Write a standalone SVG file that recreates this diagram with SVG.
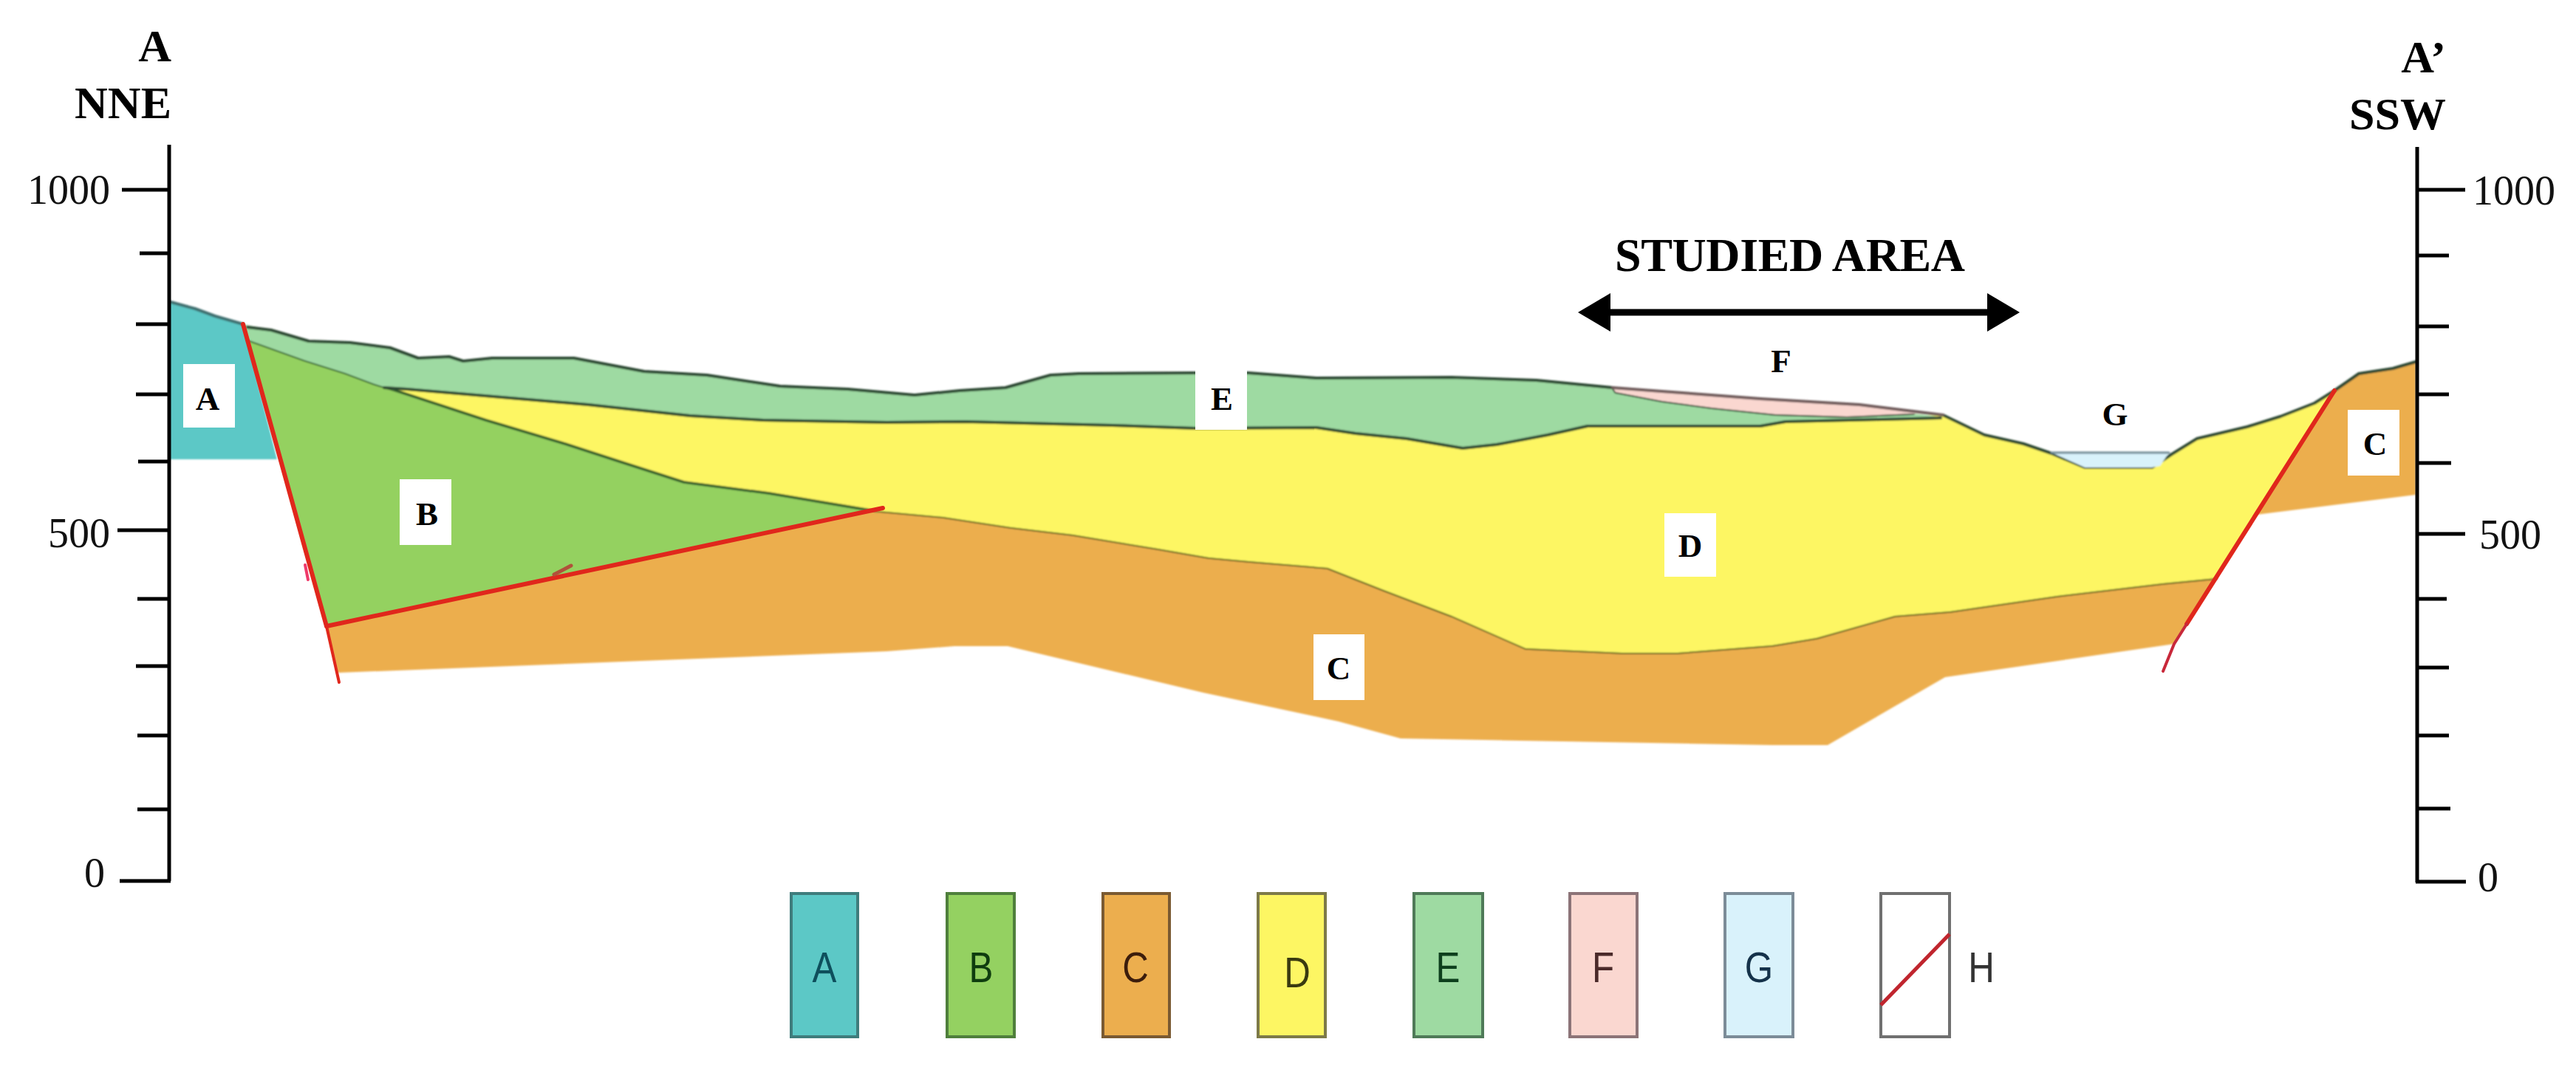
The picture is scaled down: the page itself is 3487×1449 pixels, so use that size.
<svg xmlns="http://www.w3.org/2000/svg" width="3487" height="1449" viewBox="0 0 3487 1449">
<style>
.ax{stroke:#000;stroke-width:5;fill:none}
.ol{fill:none;stroke:#2c4630;stroke-width:4;stroke-linejoin:round;stroke-linecap:round}
.olk{fill:none;stroke:#3d4a14;stroke-width:3.5;stroke-linejoin:round;stroke-linecap:round}
.flt{fill:none;stroke:#e0271c;stroke-linecap:round;stroke-linejoin:round}
.num{font-family:"Liberation Serif","Times New Roman",serif;font-size:56px;fill:#111}
.hd{font-family:"Liberation Serif","Times New Roman",serif;font-size:62px;font-weight:bold;fill:#000;text-anchor:end}
.lb{font-family:"Liberation Serif","Times New Roman",serif;font-size:45px;font-weight:bold;fill:#000;text-anchor:middle}
.leg{font-family:"Liberation Sans",Arial,sans-serif;font-size:58px;text-anchor:middle}
.box{fill:#fff}
.lg{stroke-width:4}
.A{fill:#5cc8c6}.B{fill:#94d161}.C{fill:#ecae4e}.D{fill:#fdf663}.E{fill:#9edaa2}.F{fill:#fad7d0}.G{fill:#d9f2fb}
</style>
<defs>
<marker id="ah" markerUnits="userSpaceOnUse" markerWidth="46" markerHeight="54" refX="2" refY="27" orient="auto-start-reverse">
<path d="M0 1L44 27L0 53Z" fill="#000"/>
</marker>
<filter id="soft" x="-2%" y="-2%" width="104%" height="104%"><feGaussianBlur stdDeviation="0.9"/></filter>
</defs>
<rect width="3487" height="1449" fill="#fff"/>

<g id="section" filter="url(#soft)">
<g id="layer-A">
<polygon class="A" points="229,409 264,418 291,428 329,439 375,622 229,622"/>
<polyline class="ol" style="stroke:#3f6f70" points="231,409 264,418 291,428 329,439"/>
</g>
<g id="layer-C">
<polygon class="C" points="441,848 1178,691 1276,700 1368,714 1452,724 1567,743 1636,755 1690,760 1797,769 1873,799 1965,834 2065,878 2195,884 2271,884 2399,874 2459,864 2565,834 2640,828 2785,807 2928,790 3000,783 2943,872 2633,917 2474,1009 2399,1009 1896,1000 1812,977 1629,938 1364,875 1292,875 1200,882 457,911"/>
<polygon class="C" points="3160,529 3193,506 3239,499 3270,490 3270,670 3054,697"/>
<polyline class="olk" points="1178,691 1276,700 1368,714 1452,724 1567,743 1636,755 1690,760 1797,769 1873,799 1965,834 2065,878 2195,884 2271,884 2399,874 2459,864 2565,834 2640,828 2785,807 2928,790 3000,783"/>
<polyline class="ol" points="3160,529 3193,506 3239,499 3270,490"/>
</g>
<g id="layer-D">
<polygon class="D" points="520,525 658,569 765,601 842,626 926,653 1041,668 1178,691 1276,700 1368,714 1452,724 1567,743 1636,755 1690,760 1797,769 1873,799 1965,834 2065,878 2195,884 2271,884 2399,874 2459,864 2565,834 2640,828 2785,807 2928,790 3000,783 3160,529 3133,546 3087,564 3042,578 2974,594 2940,615 2913,633 2822,633 2777,614 2739,601 2686,589 2630,562 2383,570 1200,560 551,527"/>
<polyline class="ol" points="2630,562 2686,589 2739,601 2777,614 2822,633 2913,633 2940,615 2974,594 3042,578 3087,564 3133,546 3160,529"/>
</g>
<g id="layer-B">
<polygon class="B" points="329,439 335,460 413,488 467,505 507,520 533,528 658,569 765,601 842,626 926,653 1041,668 1178,691 441,848"/>
<polyline class="olk" style="stroke:#2f5a2a" points="335,460 413,488 467,505 507,520 533,528 658,569 765,601 842,626 926,653 1041,668 1178,691"/>
</g>
<g id="layer-E">
<polygon class="E" points="329,439 367,447 418,462 474,464 528,471 566,485 608,483 627,489 666,485 777,485 872,503 957,508 1056,523 1148,527 1238,535 1299,529 1361,525 1422,508 1460,506 1618,505 1690,505 1782,512 1965,511 2080,515 2183,525 2187,531 2250,543 2317,552 2403,561 2500,564 2590,560 2630,565 2417,571 2383,578 2149,577 2095,589 2026,602 1980,607 1904,594 1835,587 1782,579 1618,580 1506,576 1307,571 1200,572 1033,569 934,563 796,548 551,527 533,528 507,520 467,505 413,488 335,460"/>
<polyline class="ol" points="335,443 367,447 418,462 474,464 528,471 566,485 608,483 627,489 666,485 777,485 872,503 957,508 1056,523 1148,527 1238,535 1299,529 1361,525 1422,508 1460,506 1618,505 1690,505 1782,512 1965,511 2080,515 2183,525 2187,531 2250,543 2317,552 2403,561 2500,564 2590,560"/>
<polyline class="ol" points="520,525 551,527 796,548 934,563 1033,569 1200,572 1307,571 1506,576 1618,580 1782,579 1835,587 1904,594 1980,607 2026,602 2095,589 2149,577 2383,577 2417,571 2627,566"/>
</g>
<g id="layer-F">
<polygon class="F" points="2183,525 2250,530 2383,540 2517,548 2590,557 2630,562 2590,560 2500,564 2403,561 2317,552 2250,543 2187,531"/>
<polyline class="ol" style="stroke:#6e5a5a" points="2183,525 2250,530 2383,540 2517,548 2590,557 2630,562"/>
</g>
<g id="layer-G">
<polygon class="G" points="2777,613 2936,613 2924,631 2913,633 2822,633"/>
<polyline class="ol" style="stroke:#6f8a96;stroke-width:3" points="2777,613 2936,613"/>
</g>
</g>

<g id="connectors">
<line class="flt" stroke-width="6" x1="329" y1="439" x2="442" y2="848"/>
<line class="flt" stroke-width="4" x1="442" y1="848" x2="459" y2="924"/>
<line class="flt" stroke-width="6" x1="442" y1="848" x2="1195" y2="688"/>
<polyline class="flt" stroke-width="6" points="3160,529 2960,845"/>
<polyline class="flt" stroke-width="4" style="stroke:#c8283a" points="2960,845 2943,872 2928,909"/>
<line class="flt" stroke-width="5" style="stroke:#b0523a" x1="750" y1="778" x2="773" y2="766"/>
<line class="flt" stroke-width="4" style="stroke:#ef3a6a" x1="413" y1="765" x2="417" y2="785"/>
<line stroke="#000" stroke-width="9" x1="2178" y1="423" x2="2692" y2="423" marker-start="url(#ah)" marker-end="url(#ah)"/>
</g>

<g id="axis-left">
<path class="ax" d="M229 196V1193M165 257H229M189 343H229M184 439H229M184 534H229M187 625H229M159 718H229M186 811H229M184 902H229M186 996H229M186 1096H229M162 1193H231"/>
<text class="num" x="37" y="276">1000</text>
<text class="num" x="65" y="741">500</text>
<text class="num" x="114" y="1201">0</text>
<text class="hd" x="232" y="83">A</text>
<text class="hd" x="232" y="160">NNE</text>
</g>
<g id="axis-right">
<path class="ax" d="M3272 199V1195M3272 257H3337M3272 346H3315M3272 442H3315M3272 534H3315M3272 627H3318M3272 723H3337M3272 811H3312M3272 904H3315M3272 996H3315M3272 1095H3317M3270 1194H3338"/>
<text class="num" x="3347" y="277">1000</text>
<text class="num" x="3356" y="743">500</text>
<text class="num" x="3354" y="1207">0</text>
<text class="hd" x="3311" y="98">A’</text>
<text class="hd" x="3311" y="175">SSW</text>
</g>

<g id="title"><text x="2186" y="367" font-family="'Liberation Serif','Times New Roman',serif" font-size="64" font-weight="bold" textLength="474">STUDIED AREA</text></g>

<g id="label-A"><rect class="box" x="248" y="493" width="70" height="86"/><text class="lb" x="281" y="555">A</text></g>
<g id="label-B"><rect class="box" x="541" y="649" width="70" height="89"/><text class="lb" x="578" y="711">B</text></g>
<g id="label-E"><rect class="box" x="1618" y="500" width="70" height="82"/><text class="lb" x="1654" y="555">E</text></g>
<g id="label-D"><rect class="box" x="2253" y="695" width="70" height="86"/><text class="lb" x="2288" y="754">D</text></g>
<g id="label-C1"><rect class="box" x="1778" y="859" width="69" height="89"/><text class="lb" x="1812" y="920">C</text></g>
<g id="label-C2"><rect class="box" x="3178" y="555" width="70" height="89"/><text class="lb" x="3215" y="616">C</text></g>
<g id="label-F"><text class="lb" x="2411" y="504">F</text></g>
<g id="label-G"><text class="lb" x="2863" y="576">G</text></g>

<g id="legend-A"><rect class="A lg" x="1071" y="1210" width="90" height="194" stroke="#3f7c7c"/><text class="leg" transform="translate(1116,1330) scale(.85,1)" fill="#0e4f5c">A</text></g>
<g id="legend-B"><rect class="B lg" x="1282" y="1210" width="91" height="194" stroke="#4f7f3c"/><text class="leg" transform="translate(1328,1330) scale(.85,1)" fill="#0f3d0f">B</text></g>
<g id="legend-C"><rect class="C lg" x="1493" y="1210" width="90" height="194" stroke="#7a5a32"/><text class="leg" transform="translate(1537,1330) scale(.85,1)" fill="#3c1d0c">C</text></g>
<g id="legend-D"><rect class="D lg" x="1703" y="1210" width="91" height="194" stroke="#7d7a48"/><text class="leg" transform="translate(1756,1337) scale(.85,1)" fill="#3a3a10">D</text></g>
<g id="legend-E"><rect class="E lg" x="1914" y="1210" width="93" height="194" stroke="#4f7a58"/><text class="leg" transform="translate(1960,1330) scale(.85,1)" fill="#0d3f1d">E</text></g>
<g id="legend-F"><rect class="F lg" x="2125" y="1210" width="91" height="194" stroke="#8c7478"/><text class="leg" transform="translate(2170,1330) scale(.85,1)" fill="#4a2a2a">F</text></g>
<g id="legend-G"><rect class="G lg" x="2335" y="1210" width="92" height="194" stroke="#7c8c98"/><text class="leg" transform="translate(2381,1330) scale(.85,1)" fill="#15324a">G</text></g>
<g id="legend-H"><rect class="lg" fill="#fff" x="2546" y="1210" width="93" height="194" stroke="#707070"/><line x1="2546" y1="1361" x2="2639" y2="1265" stroke="#c0252e" stroke-width="5"/><text class="leg" transform="translate(2682,1330) scale(.85,1)" fill="#333">H</text></g>
</svg>
